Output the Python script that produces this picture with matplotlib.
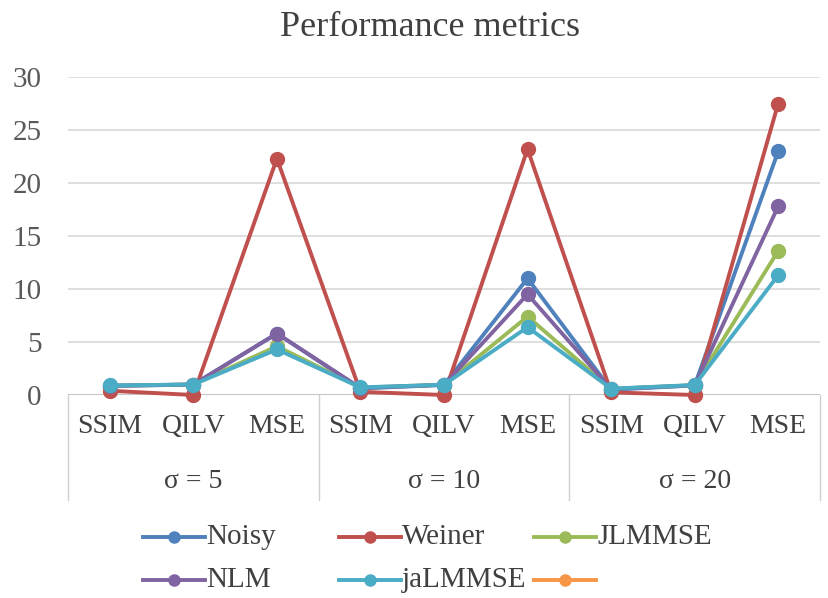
import matplotlib
matplotlib.use("Agg")
import matplotlib.pyplot as plt
from matplotlib.lines import Line2D
import matplotlib.transforms as mtransforms

plt.rcParams['font.family'] = ['Liberation Serif', 'DejaVu Serif']

metrics = ["SSIM", "QILV", "MSE"]
sigmas = ["σ = 5", "σ = 10", "σ = 20"]

noisy   = [0.85, 0.98, 5.8, 0.62, 0.95, 11.0, 0.50, 0.90, 23.0]
weiner  = [0.40, 0.00, 22.3, 0.30, 0.00, 23.2, 0.25, 0.00, 27.5]
jlmmse  = [0.88, 0.99, 4.6, 0.70, 0.97, 7.4, 0.58, 0.93, 13.6]
nlm     = [0.87, 0.99, 5.8, 0.66, 0.96, 9.5, 0.55, 0.92, 17.8]
jalmmse = [0.90, 0.99, 4.3, 0.72, 0.97, 6.4, 0.60, 0.94, 11.3]

series = [
    ("Noisy", noisy, "#4F81BD"),
    ("Weiner", weiner, "#C0504D"),
    ("JLMMSE", jlmmse, "#9BBB59"),
    ("NLM", nlm, "#8064A2"),
    ("jaLMMSE", jalmmse, "#4BACC6"),
    ("", [], "#F79646"),  # empty sixth series
]

W, H = 829, 598
TXT = "#404040"
fig = plt.figure(figsize=(W / 100, H / 100), dpi=100)
ax = fig.add_axes([68 / W, 1 - 395 / H, (820 - 68) / W, (395 - 77) / H])

for name, vals, col in series:
    ax.plot(range(len(vals)), vals, color=col, lw=2.8, marker="o", ms=10,
            clip_on=False, zorder=3, label=name)

ax.set_xlim(-0.5, 8.5)
ax.set_ylim(0, 30)
ax.set_yticks(range(0, 31, 5))
ax.yaxis.grid(True, color="#D9D9D9", lw=1.2)
ax.set_axisbelow(True)
for s in ax.spines.values():
    s.set_visible(False)
ax.tick_params(axis="y", length=0, labelsize=21, colors="#595959", pad=19)
ax.set_xticks(range(len(noisy)))
ax.set_xticklabels(metrics * 3)
ax.tick_params(axis="x", length=0, labelsize=20, colors=TXT, pad=14)

# category axis line and group separators
ax.axhline(0, color="#BFBFBF", lw=1.2, zorder=1)
trans = mtransforms.blended_transform_factory(ax.transData, fig.transFigure)
for xs in [-0.5, 2.5, 5.5, 8.5]:
    fig.add_artist(Line2D([xs, xs], [1 - 395 / H, 1 - 500 / H], transform=trans,
                          color="#D0D0D0", lw=1.0))
for i, lab in enumerate(sigmas):
    fig.text(3 * i + 1, 1 - 481 / H, lab, transform=trans, ha="center", va="center",
             fontsize=20, color=TXT)

fig.text(430 / W, 1 - 27 / H, "Performance metrics", ha="center", va="center",
         fontsize=26, color=TXT)

# legend laid out in fixed-width slots, three per row
slot_x = [143, 339, 534]
row_y = [537, 580]
for k, (name, _, col) in enumerate(series):
    x0 = slot_x[k % 3]
    yy = 1 - row_y[k // 3] / H
    fig.add_artist(Line2D([x0 / W, (x0 + 62) / W], [yy, yy], color=col, lw=2.8))
    fig.add_artist(Line2D([(x0 + 31) / W], [yy], color=col, marker="o", ms=8, lw=0))
    if name:
        fig.text((x0 + 63) / W, yy, name, ha="left", va="center",
                 fontsize=21, color=TXT)

fig.savefig("out.png", dpi=100)
